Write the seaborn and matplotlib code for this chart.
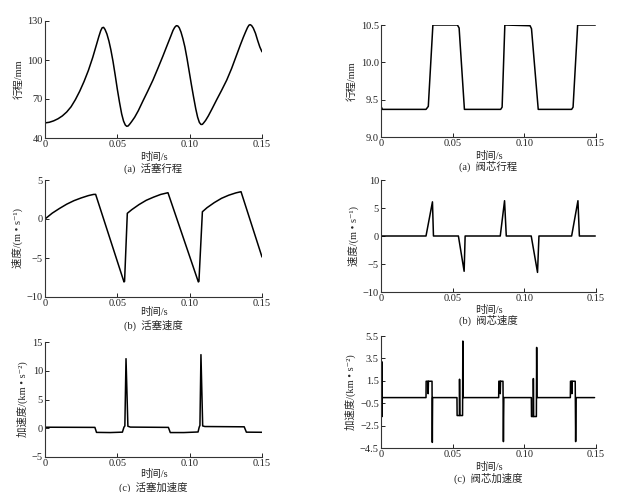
import matplotlib
matplotlib.use("Agg")
import matplotlib.pyplot as plt
import seaborn as sns
import pandas as pd

# ---- data ----
# piston stroke (mm)
ps_t = [0, 0.003, 0.006, 0.009, 0.012, 0.015, 0.018, 0.021, 0.024, 0.027, 0.030, 0.033,
        0.0355, 0.0372, 0.0385, 0.0395, 0.0405, 0.0415, 0.0428, 0.0442, 0.0455, 0.0470,
        0.0485, 0.0500, 0.0515, 0.0530, 0.0543, 0.0555, 0.0565, 0.0575, 0.0588,
        0.0600, 0.0620, 0.0645, 0.0677, 0.0710, 0.0746, 0.0780, 0.0815, 0.0845, 0.0870,
        0.0885, 0.0897, 0.0908, 0.0918, 0.0928, 0.0940, 0.0953, 0.0967, 0.0982, 0.0997,
        0.1012, 0.1027, 0.1042, 0.1055, 0.1067, 0.1078, 0.1088, 0.1098,
        0.1110, 0.1129, 0.1155, 0.1187, 0.1220, 0.1256, 0.1290, 0.1325, 0.1350, 0.1371,
        0.1388, 0.1400, 0.1410, 0.1418, 0.1428, 0.1440, 0.1455, 0.1470, 0.1485, 0.1500]
ps_y = [51.6, 52.1, 53.2, 54.8, 57.0, 60.0, 64.0, 69.5, 76.0, 83.5, 92.0, 102.0,
        111.5, 118.0, 122.5, 124.8, 125.1, 123.5, 120.0, 114.5, 108.0, 99.0,
        88.5, 77.5, 67.5, 58.5, 53.0, 50.0, 49.0, 49.3, 51.0,
        52.8, 56.0, 61.0, 68.5, 76.0, 84.5, 93.5, 103.0, 111.5, 118.5,
        122.8, 125.2, 126.4, 126.2, 124.8, 121.5, 116.5, 110.0, 101.0, 91.0,
        81.0, 71.5, 62.5, 56.0, 52.0, 50.4, 50.5, 51.8,
        53.5, 57.0, 62.5, 69.5, 76.5, 84.5, 93.5, 104.0, 111.5, 117.5,
        122.0, 125.0, 126.8, 127.2, 126.5, 124.5, 120.5, 115.0, 110.0, 106.3]

# piston velocity (m/s)
pv_t = [0, 0.005, 0.010, 0.015, 0.020, 0.025, 0.030, 0.0335, 0.0350, 0.0546, 0.0550, 0.0569,
        0.060, 0.065, 0.070, 0.075, 0.080, 0.0850, 0.1060, 0.1064, 0.1088,
        0.112, 0.117, 0.122, 0.127, 0.132, 0.1355, 0.1500]
pv_y = [0, 0.75, 1.35, 1.9, 2.35, 2.7, 3.0, 3.15, 3.16, -8.07, -8.0, 0.73,
        1.2, 1.85, 2.4, 2.8, 3.15, 3.37, -8.07, -8.0, 0.93,
        1.45, 2.1, 2.65, 3.05, 3.35, 3.5, -4.87]

# piston acceleration (km/s^2)
pa_t = [0, 0.0345, 0.0356, 0.045, 0.0535, 0.0546, 0.0552, 0.0560, 0.0573, 0.0590,
        0.0853, 0.0866, 0.0960, 0.1058, 0.1066, 0.1071, 0.1078, 0.1090, 0.1105,
        0.1377, 0.1392, 0.1500]
pa_y = [0.18, 0.15, -0.72, -0.75, -0.68, 0.2, 0.4, 12.1, 0.35, 0.2,
        0.15, -0.75, -0.75, -0.65, 0.2, 0.5, 12.8, 0.4, 0.3,
        0.25, -0.68, -0.70]

# valve stroke (mm)
vs_t = [0, 0.0010, 0.0314, 0.0330, 0.0362, 0.0533, 0.0545, 0.0582, 0.0835, 0.0845, 0.0864,
        0.1040, 0.1050, 0.1097, 0.1330, 0.1340, 0.1372, 0.1495]
vs_y = [9.41, 9.37, 9.37, 9.41, 10.5, 10.5, 10.46, 9.37, 9.37, 9.40, 10.5,
        10.49, 10.45, 9.37, 9.37, 9.40, 10.5, 10.5]

# valve velocity (m/s)
vv_t = [0, 0.0314, 0.0359, 0.0366, 0.0540, 0.0580, 0.0587, 0.0832, 0.0862, 0.0874,
        0.1048, 0.1092, 0.1102, 0.1330, 0.1374, 0.1384, 0.1495]
vv_y = [0, 0, 6.1, 0, 0, -6.3, 0, 0, 6.3, 0,
        0, -6.5, 0, 0, 6.3, 0, 0]

# valve acceleration (km/s^2)
va_t = [0.0005, 0.0006, 0.0007, 0.0009, 0.0314, 0.0315, 0.0328, 0.0329, 0.0331, 0.0356, 0.0358,
        0.0360, 0.0530, 0.0531, 0.0547, 0.0548, 0.0550, 0.0569, 0.0571, 0.0573,
        0.0821, 0.0822, 0.0831, 0.0832, 0.0834, 0.0851, 0.0854, 0.0857,
        0.1049, 0.1050, 0.1062, 0.1063, 0.1065, 0.1084, 0.1086, 0.1088,
        0.1321, 0.1322, 0.1331, 0.1332, 0.1334, 0.1355, 0.1358, 0.1361, 0.1490]
va_y = [0, 3.2, -1.7, 0, 0, 1.46, 1.46, 0.35, 1.46, 1.46, -4.0,
        0, 0, -1.6, -1.6, 1.64, -1.6, -1.6, 5.05, 0,
        0, 1.46, 1.46, 0.35, 1.46, 1.46, -3.93, 0,
        0, -1.69, -1.69, 1.7, -1.69, -1.69, 4.48, 0,
        0, 1.46, 1.46, 0.35, 1.46, 1.46, -3.93, 0, 0]

x_ticks = [0, 0.05, 0.10, 0.15]
x_labels = ["0", "0.05", "0.10", "0.15"]

panels = [
    # t, y, ylabel, yticks, yticklabels, subtitle, box (left, top, right, bottom px), xlabel y, subtitle y
    (ps_t, ps_y, "行程/mm", [40, 70, 100, 130], ["40", "70", "100", "130"],
     "(a)  活塞行程", (45, 21, 262, 138), 157, 169),
    (vs_t, vs_y, "行程/mm", [9.0, 9.5, 10.0, 10.5], ["9.0", "9.5", "10.0", "10.5"],
     "(a)  阀芯行程", (381, 25, 596, 137), 156, 166),
    (pv_t, pv_y, "速度/(m • s⁻¹)", [-10, -5, 0, 5], ["−10", "−5", "0", "5"],
     "(b)  活塞速度", (45, 180, 262, 297), 312, 325),
    (vv_t, vv_y, "速度/(m • s⁻¹)", [-10, -5, 0, 5, 10], ["−10", "−5", "0", "5", "10"],
     "(b)  阀芯速度", (381, 180, 596, 292), 310, 320),
    (pa_t, pa_y, "加速度/(km • s⁻²)", [-5, 0, 5, 10, 15], ["−5", "0", "5", "10", "15"],
     "(c)  活塞加速度", (45, 342, 262, 457), 474, 487),
    (va_t, va_y, "加速度/(km • s⁻²)", [-4.5, -2.5, -0.5, 1.5, 3.5, 5.5],
     ["−4.5", "−2.5", "−0.5", "1.5", "3.5", "5.5"],
     "(c)  阀芯加速度", (381, 336, 596, 448), 467, 478),
]

sns.set_style("ticks")
plt.rcParams["font.family"] = ["Liberation Serif", "Noto Sans CJK SC", "DejaVu Sans"]
plt.rcParams["axes.unicode_minus"] = True

W, H = 627, 492
fig = plt.figure(figsize=(W / 100, H / 100), dpi=100)

for t, y, ylab, yt, ytl, sub, box, xl_y, sub_y in panels:
    l, tp, r, b = box
    ax = fig.add_axes([l / W, 1 - b / H, (r - l) / W, (b - tp) / H])
    df = pd.DataFrame({"t": t, "y": y})
    sns.lineplot(data=df, x="t", y="y", ax=ax, sort=False, estimator=None,
                 color="black", linewidth=1.1)
    ax.set_xlim(0, 0.15)
    ax.set_ylim(yt[0], yt[-1])
    ax.set_xticks(x_ticks)
    ax.set_xticklabels(x_labels)
    ax.set_yticks(yt)
    ax.set_yticklabels(ytl)
    ax.tick_params(direction="in", length=3, width=0.7, labelsize=7.5, pad=1.5, colors="#222222")
    for s in ["left", "bottom"]:
        ax.spines[s].set_linewidth(0.8)
        ax.spines[s].set_color("#333333")
    sns.despine(ax=ax)
    ax.set_xlabel("")
    ax.set_ylabel(ylab, fontsize=7.5, labelpad=3)
    cx = (l + r) / 2 / W
    fig.text(cx, 1 - xl_y / H, "时间/s", ha="center", va="center", fontsize=7.5)
    fig.text(cx, 1 - sub_y / H, sub, ha="center", va="center", fontsize=7.5)

fig.savefig("out.png", dpi=100)
